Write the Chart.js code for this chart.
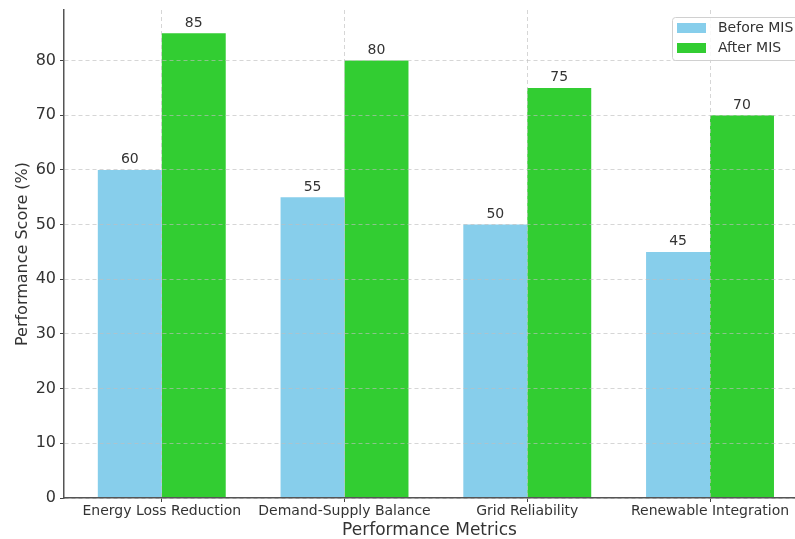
<!DOCTYPE html>
<html>
<head>
<meta charset="utf-8">
<script src="https://cdn.jsdelivr.net/npm/chart.js@4/dist/chart.umd.min.js"></script>
<style>
  html, body { margin: 0; padding: 0; background: #fff; }
  #wrap { width: 795px; height: 539px; position: relative; }
</style>
</head>
<body>
<div id="wrap"><canvas id="c" width="795" height="539"></canvas></div>
<script>
const categories = ['Energy Loss Reduction', 'Demand-Supply Balance', 'Grid Reliability', 'Renewable Integration'];
const beforeMIS = [60, 55, 50, 45];
const afterMIS = [85, 80, 75, 70];
const yTicks = [0, 10, 20, 30, 40, 50, 60, 70, 80];

const FONT = "'DejaVu Sans', sans-serif";
const TEXT = '#333333';

// value labels above each bar
const valueLabels = {
  id: 'valueLabels',
  afterDatasetsDraw(chart) {
    const ctx = chart.ctx;
    ctx.save();
    ctx.font = '14px ' + FONT;
    ctx.fillStyle = TEXT;
    ctx.textAlign = 'center';
    ctx.textBaseline = 'alphabetic';
    chart.data.datasets.forEach((ds, di) => {
      chart.getDatasetMeta(di).data.forEach((bar, i) => {
        ctx.fillText(String(ds.data[i].y), bar.x, bar.y - 6.5);
      });
    });
    ctx.restore();
  }
};

// framed legend in the upper right corner of the plot
const boxLegend = {
  id: 'boxLegend',
  afterDraw(chart) {
    const ctx = chart.ctx;
    const x0 = 672, y0 = 17, w = 140, h = 43;
    ctx.save();
    ctx.beginPath();
    ctx.roundRect(x0 + 0.5, y0 + 0.5, w, h, 3);
    ctx.fillStyle = 'rgba(255,255,255,0.85)';
    ctx.fill();
    ctx.strokeStyle = '#d0d0d0';
    ctx.lineWidth = 1;
    ctx.stroke();
    ctx.font = '14px ' + FONT;
    ctx.textBaseline = 'middle';
    ctx.textAlign = 'left';
    chart.data.datasets.forEach((ds, i) => {
      const cy = y0 + 11 + i * 20;
      ctx.fillStyle = ds.backgroundColor;
      ctx.fillRect(x0 + 5, cy - 5, 29, 10);
      ctx.fillStyle = TEXT;
      ctx.fillText(ds.label, x0 + 46, cy + 0.5);
    });
    ctx.restore();
  }
};

const toPoints = arr => arr.map((v, i) => ({ x: i, y: v }));

const gridStyle = {
  z: 1,
  offset: false,
  color: 'rgba(190,190,190,0.8)',
  lineWidth: 0.8,
  tickLength: 4,
  tickColor: '#444',
  tickBorderDash: [],
  tickWidth: 1
};

new Chart(document.getElementById('c'), {
  type: 'bar',
  data: {
    datasets: [
      { label: 'Before MIS', data: toPoints(beforeMIS), backgroundColor: '#87CEEB', borderWidth: 0 },
      { label: 'After MIS', data: toPoints(afterMIS), backgroundColor: '#32CD32', borderWidth: 0 }
    ]
  },
  options: {
    responsive: false,
    animation: false,
    devicePixelRatio: 1,
    categoryPercentage: 0.7,
    barPercentage: 1.0,
    layout: { padding: { top: 10, right: 0, left: 0, bottom: 0 } },
    plugins: {
      legend: { display: false },
      tooltip: { enabled: false }
    },
    scales: {
      x: {
        type: 'linear',
        offset: false,
        min: -0.535,
        max: 3.465,
        afterBuildTicks(scale) {
          scale.ticks = categories.map((_, i) => ({ value: i }));
        },
        afterFit(scale) {
          scale.height = 41;
          scale.paddingLeft = 0;
          scale.paddingRight = 0;
        },
        ticks: {
          autoSkip: false,
          maxRotation: 0,
          padding: 1,
          color: TEXT,
          font: { family: FONT, size: 14 },
          callback: v => categories[v] ?? ''
        },
        grid: gridStyle,
        border: { display: true, z: 2, color: '#555', width: 1.5, dash: [4, 3] },
        title: {
          display: true,
          text: 'Performance Metrics',
          color: TEXT,
          font: { family: FONT, size: 17, lineHeight: 1.0 },
          padding: { top: 0, bottom: 0 }
        }
      },
      y: {
        min: 0,
        max: 89.25,
        afterBuildTicks(scale) {
          scale.ticks = yTicks.map(v => ({ value: v }));
        },
        afterFit(scale) {
          scale.width = 64;
          scale.paddingTop = 0;
          scale.paddingBottom = 0;
        },
        ticks: {
          padding: 4,
          color: TEXT,
          font: { family: FONT, size: 16 }
        },
        grid: gridStyle,
        border: { display: true, z: 2, color: '#555', width: 1.5, dash: [4, 3] },
        title: {
          display: true,
          text: 'Performance Score (%)',
          color: TEXT,
          font: { family: FONT, size: 16 },
          padding: { top: 13, bottom: 0 }
        }
      }
    }
  },
  plugins: [valueLabels, boxLegend]
});
</script>
</body>
</html>
